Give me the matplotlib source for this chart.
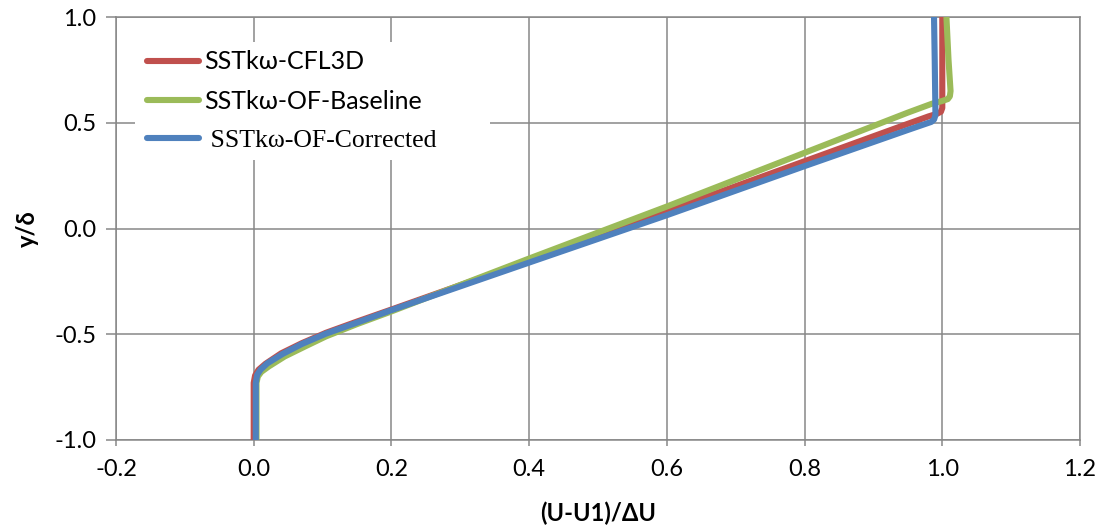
import matplotlib
matplotlib.use("Agg")
import matplotlib.pyplot as plt
from matplotlib.patches import Rectangle

cfl3d_x = [0.000, 0.000, 0.002, 0.007, 0.017, 0.040, 0.070, 0.105, 0.150, 0.200, 0.400, 0.600, 0.800, 0.950, 0.980, 0.992, 0.998, 1.000, 1.000]
cfl3d_y = [-1.000, -0.730, -0.695, -0.668, -0.640, -0.590, -0.542, -0.493, -0.440, -0.383, -0.153, 0.082, 0.318, 0.495, 0.530, 0.542, 0.552, 0.570, 1.000]

base_x = [0.004, 0.004, 0.006, 0.011, 0.022, 0.045, 0.075, 0.105, 0.150, 0.200, 0.400, 0.600, 0.800, 0.950, 0.985, 1.000, 1.008, 1.011, 1.012, 1.009, 1.006]
base_y = [-1.000, -0.730, -0.700, -0.678, -0.652, -0.605, -0.557, -0.510, -0.452, -0.392, -0.142, 0.104, 0.358, 0.548, 0.590, 0.603, 0.612, 0.625, 0.650, 0.800, 1.000]

corr_x = [0.003, 0.003, 0.005, 0.010, 0.020, 0.042, 0.070, 0.105, 0.150, 0.200, 0.400, 0.600, 0.800, 0.950, 0.975, 0.984, 0.988, 0.990, 0.990, 0.989, 0.988]
corr_y = [-1.000, -0.730, -0.692, -0.667, -0.637, -0.593, -0.546, -0.497, -0.445, -0.386, -0.161, 0.063, 0.295, 0.466, 0.494, 0.504, 0.515, 0.535, 0.560, 0.800, 1.000]

labels = ["SSTk\u03c9-CFL3D", "SSTk\u03c9-OF-Baseline", " SSTk\u03c9-OF-Corrected"]
colors = ["#C0504D", "#9BBB59", "#4F81BD"]

x_ticks = [-0.2, 0.0, 0.2, 0.4, 0.6, 0.8, 1.0, 1.2]
y_ticks = [-1.0, -0.5, 0.0, 0.5, 1.0]

sans = ["Lato", "DejaVu Sans"]
serif = ["Liberation Serif", "DejaVu Serif"]
plt.rcParams["font.family"] = sans

fig = plt.figure(figsize=(11.03, 5.31), dpi=100)
ax = fig.add_axes([116/1103, 1-440/531, (1080-116)/1103, (440-17)/531])

grid_c = "#878787"
ax.set_xlim(-0.2, 1.2)
ax.set_ylim(-1.0, 1.0)
ax.set_xticks(x_ticks)
ax.set_yticks(y_ticks)
ax.set_xticklabels([f"{v:.1f}" for v in x_ticks])
ax.set_yticklabels([f"{v:.1f}" for v in y_ticks])
ax.grid(True, color=grid_c, linewidth=1.1, zorder=0)
ax.set_axisbelow(True)
for s in ax.spines.values():
    s.set_color(grid_c)
    s.set_linewidth(1.1)
ax.tick_params(axis="y", direction="out", length=7, width=1.1, color=grid_c, labelsize=17, pad=7)
ax.tick_params(axis="x", direction="out", length=4, width=1.1, color=grid_c, labelsize=17, pad=10)

# legend background (covers grid)
ax.add_patch(Rectangle((0.0197, 0.662), 0.368, 0.279, transform=ax.transAxes,
                       facecolor="white", edgecolor="none", zorder=1))

lw = 4.4
kw = dict(lw=lw, solid_joinstyle="round", solid_capstyle="butt")
l1, = ax.plot(cfl3d_x, cfl3d_y, color=colors[0], zorder=3, **kw)
l2, = ax.plot(base_x, base_y, color=colors[1], zorder=4, **kw)
l3, = ax.plot(corr_x, corr_y, color=colors[2], zorder=5, **kw)

leg = ax.legend([l1, l2, l3], labels, loc="upper left", bbox_to_anchor=(0.032, 0.921),
                frameon=False, fontsize=18, handlelength=2.1, handletextpad=0.2,
                labelspacing=0.66, borderaxespad=0.0, borderpad=0.0)
for h in leg.get_lines():
    h.set_linewidth(4.4)
    h.set_solid_capstyle("round")
texts = leg.get_texts()
texts[2].set_fontfamily(serif)
texts[2].set_fontsize(18.5)

ax.set_xlabel("(U-U1)/\u0394U", fontsize=17, fontweight="bold")
ax.set_ylabel("y/\u03b4", fontsize=17, fontweight="bold")
ax.xaxis.set_label_coords(0.5, -0.145)
ax.yaxis.set_label_coords(-0.080, 0.5)

fig.savefig("out.png", dpi=100)
